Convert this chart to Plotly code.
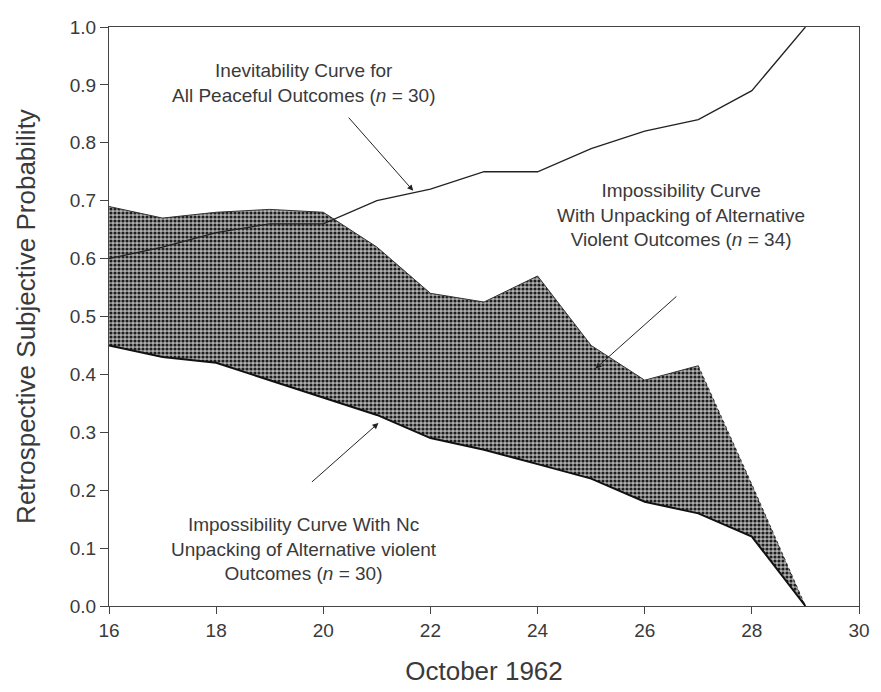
import plotly.graph_objects as go

days = [16, 17, 18, 19, 20, 21, 22, 23, 24, 25, 26, 27, 28, 29]
inevitability = [0.60, 0.62, 0.645, 0.66, 0.66, 0.70, 0.72, 0.75, 0.75, 0.79, 0.82, 0.84, 0.89, 1.00]
impossible_unpacked = [0.69, 0.67, 0.68, 0.685, 0.68, 0.62, 0.54, 0.525, 0.57, 0.45, 0.39, 0.415, 0.21, 0.0]
impossible_plain = [0.45, 0.43, 0.42, 0.39, 0.36, 0.33, 0.29, 0.27, 0.245, 0.22, 0.18, 0.16, 0.12, 0.0]

x_ticks = [16, 18, 20, 22, 24, 26, 28, 30]
y_ticks = [0.0, 0.1, 0.2, 0.3, 0.4, 0.5, 0.6, 0.7, 0.8, 0.9, 1.0]

FONT = "Liberation Sans, Arial, sans-serif"
GREY = "#3a3a3a"

fig = go.Figure()

# shaded band between the two impossibility curves
fig.add_trace(go.Scatter(x=days, y=impossible_unpacked, mode="lines",
                         line=dict(color="rgba(0,0,0,0)", width=0),
                         showlegend=False, hoverinfo="skip"))
fig.add_trace(go.Scatter(x=days, y=impossible_plain, mode="lines", fill="tonexty",
                         line=dict(color="rgba(0,0,0,0)", width=0),
                         fillcolor="#8c8c8c",
                         fillpattern=dict(shape=".", fgcolor="#1e1e1e", bgcolor="#b0b0b0",
                                          size=4, solidity=0.5, fillmode="replace"),
                         showlegend=False, hoverinfo="skip"))

# upper impossibility curve (solid up to 27, dotted to 29)
fig.add_trace(go.Scatter(x=days[:12], y=impossible_unpacked[:12], mode="lines",
                         line=dict(color="#333", width=1), showlegend=False))
fig.add_trace(go.Scatter(x=days[11:], y=impossible_unpacked[11:], mode="lines",
                         line=dict(color="#333", width=1, dash="dot"), showlegend=False))
# lower impossibility curve
fig.add_trace(go.Scatter(x=days, y=impossible_plain, mode="lines",
                         line=dict(color="#111", width=2), showlegend=False))
# inevitability curve
fig.add_trace(go.Scatter(x=days, y=inevitability, mode="lines",
                         line=dict(color="#222", width=1.3), showlegend=False))

ann_font = dict(family=FONT, size=19, color=GREY)
annotations = [
    dict(x=19.64, y=0.903, text="Inevitability Curve for<br>All Peaceful Outcomes (<i>n</i> = 30)",
         showarrow=False, font=ann_font, align="center"),
    dict(x=26.67, y=0.675, text="Impossibility Curve<br>With Unpacking of Alternative<br>Violent Outcomes (<i>n</i> = 34)",
         showarrow=False, font=ann_font, align="center"),
    dict(x=19.64, y=0.099, text="Impossibility Curve With Nc<br>Unpacking of Alternative violent<br>Outcomes (<i>n</i> = 30)",
         showarrow=False, font=ann_font, align="center"),
    dict(x=21.68, y=0.717, ax=20.45, ay=0.846, axref="x", ayref="y", text="",
         showarrow=True, arrowhead=2, arrowsize=1.2, arrowwidth=1, arrowcolor="#222"),
    dict(x=25.08, y=0.41, ax=26.62, ay=0.537, axref="x", ayref="y", text="",
         showarrow=True, arrowhead=2, arrowsize=1.2, arrowwidth=1, arrowcolor="#222"),
    dict(x=21.03, y=0.316, ax=19.76, ay=0.212, axref="x", ayref="y", text="",
         showarrow=True, arrowhead=2, arrowsize=1.2, arrowwidth=1, arrowcolor="#222"),
]

fig.update_layout(
    width=881, height=692,
    margin=dict(l=109, r=11, t=27, b=81),
    paper_bgcolor="white", plot_bgcolor="white",
    font=dict(family=FONT, color=GREY),
    annotations=annotations,
    showlegend=False,
)
fig.update_xaxes(range=[16, 30], tickvals=x_ticks, ticktext=[str(v) for v in x_ticks],
                 showgrid=False, zeroline=False, showline=True, linecolor="#444", linewidth=1,
                 mirror=True, ticks="outside", ticklen=7, tickcolor="#444",
                 tickfont=dict(size=19, color=GREY, family=FONT),
                 title=dict(text="October 1962", font=dict(size=26, color=GREY, family=FONT), standoff=22))
fig.update_yaxes(range=[0, 1.0], tickvals=y_ticks, ticktext=[f"{v:.1f}" for v in y_ticks],
                 showgrid=False, zeroline=False, showline=True, linecolor="#444", linewidth=1,
                 mirror=True, ticks="outside", ticklen=8, tickcolor="#444",
                 tickfont=dict(size=19, color=GREY, family=FONT),
                 title=dict(text="Retrospective Subjective Probability",
                            font=dict(size=26, color=GREY, family=FONT), standoff=26))

fig.write_html("out.html")
